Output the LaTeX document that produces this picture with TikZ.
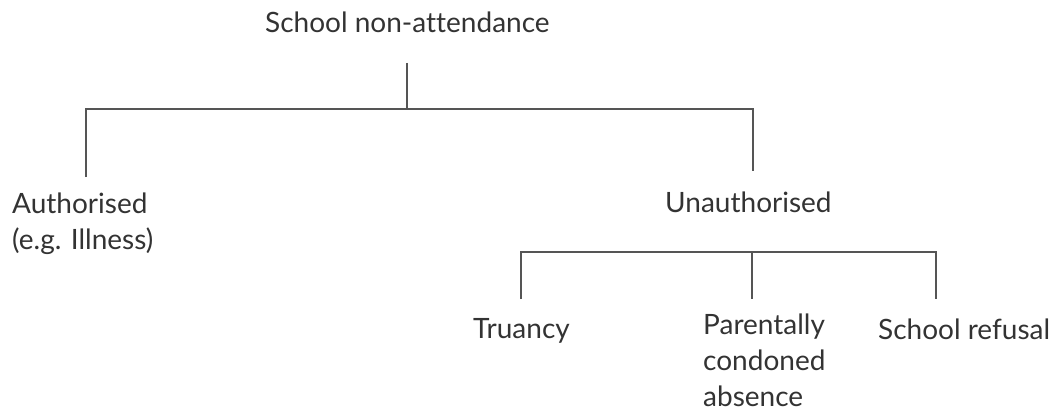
\documentclass[tikz,border=0pt]{standalone}
\usepackage{fontspec}
\setmainfont{Lato}[Ligatures=NoCommon]
\definecolor{txt}{HTML}{333333}
\definecolor{ln}{HTML}{555555}
\begin{document}
\begin{tikzpicture}[x=1pt,y=-1pt,
  lbl/.style={anchor=base west, inner sep=0pt, text=txt,
    font=\fontsize{28}{36}\selectfont, align=left},
  link/.style={draw=ln, line width=1.8pt}]
\useasboundingbox (0,0) rectangle (1057,412);
% labels (multi-line labels are placed by the baseline of their last line)
\node[lbl] (root) at (265,33) {School non-attendance};
\node[lbl] (auth) at (12,249) {Authorised\\(e.g. Illness)};
\node[lbl] (unauth) at (665,212) {Unauthorised};
\node[lbl] (truancy) at (473,338) {Truancy};
\node[lbl] (parent) at (703,406) {Parentally\\condoned\\absence};
\node[lbl] (refusal) at (878,339) {School refusal};
% junction points
\coordinate (r0) at (407,63);
\coordinate (r1) at (407,109);
\coordinate (a0) at (86,109);
\coordinate (a1) at (86,177);
\coordinate (u0) at (753,109);
\coordinate (u1) at (753,171);
\coordinate (s0) at (521,252);
\coordinate (s1) at (521,299);
\coordinate (m0) at (752,252);
\coordinate (m1) at (752,299);
\coordinate (e0) at (936,252);
\coordinate (e1) at (936,299);
% connectors
\draw[link] (r0) -- (r1);
\draw[link] (a1) -- (a0) -- (u0) -- (u1);
\draw[link] (s1) -- (s0) -- (e0) -- (e1);
\draw[link] (m0) -- (m1);
\end{tikzpicture}
\end{document}
